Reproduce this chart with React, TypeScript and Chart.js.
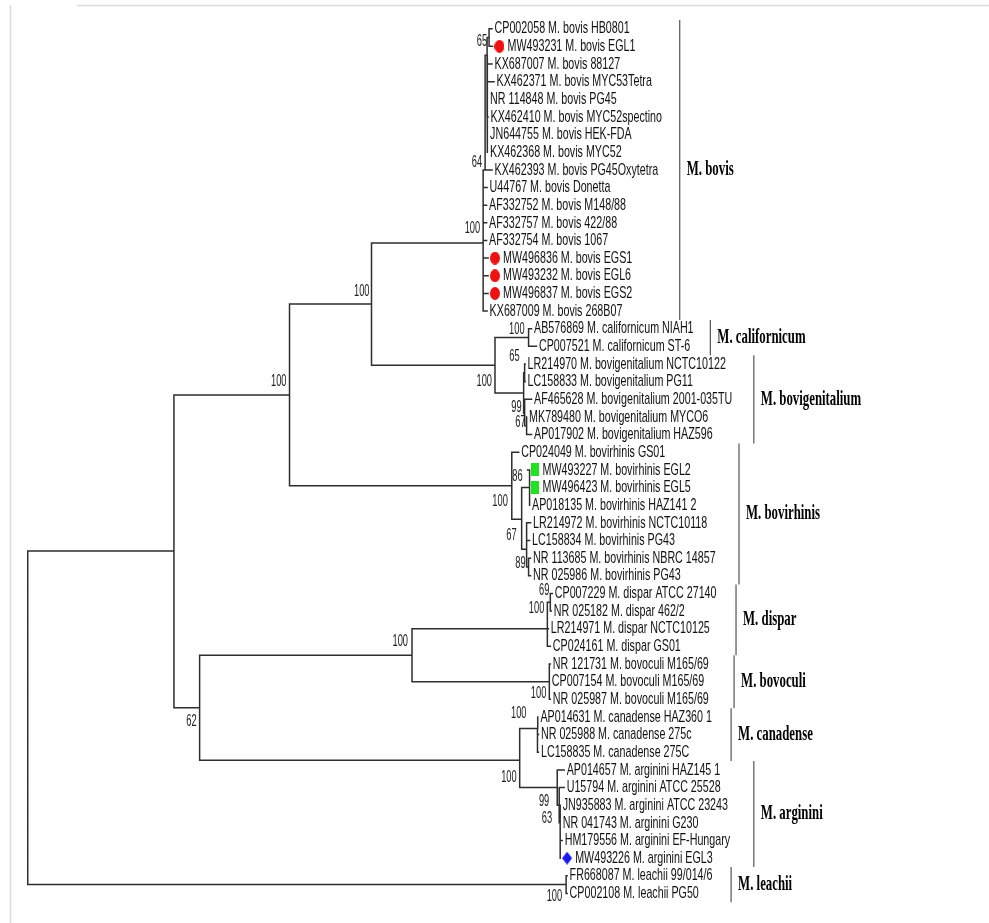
import React, { useEffect, useRef } from 'react';
import { Chart, registerables } from 'chart.js';
Chart.register(...registerables);

// ---------------- DATA ----------------
const LEAF_NAMES = [
  'CP002058 M. bovis HB0801',
  'MW493231 M. bovis EGL1',
  'KX687007 M. bovis 88127',
  'KX462371 M. bovis MYC53Tetra',
  'NR 114848 M. bovis PG45',
  'KX462410 M. bovis MYC52spectino',
  'JN644755 M. bovis HEK-FDA',
  'KX462368 M. bovis MYC52',
  'KX462393 M. bovis PG45Oxytetra',
  'U44767 M. bovis Donetta',
  'AF332752 M. bovis M148/88',
  'AF332757 M. bovis 422/88',
  'AF332754 M. bovis 1067',
  'MW496836 M. bovis EGS1',
  'MW493232 M. bovis EGL6',
  'MW496837 M. bovis EGS2',
  'KX687009 M. bovis 268B07',
  'AB576869 M. californicum NIAH1',
  'CP007521 M. californicum ST-6',
  'LR214970 M. bovigenitalium NCTC10122',
  'LC158833 M. bovigenitalium PG11',
  'AF465628 M. bovigenitalium 2001-035TU',
  'MK789480 M. bovigenitalium MYCO6',
  'AP017902 M. bovigenitalium HAZ596',
  'CP024049 M. bovirhinis GS01',
  'MW493227 M. bovirhinis EGL2',
  'MW496423 M. bovirhinis EGL5',
  'AP018135 M. bovirhinis HAZ141 2',
  'LR214972 M. bovirhinis NCTC10118',
  'LC158834 M. bovirhinis PG43',
  'NR 113685 M. bovirhinis NBRC 14857',
  'NR 025986 M. bovirhinis PG43',
  'CP007229 M. dispar ATCC 27140',
  'NR 025182 M. dispar 462/2',
  'LR214971 M. dispar NCTC10125',
  'CP024161 M. dispar GS01',
  'NR 121731 M. bovoculi M165/69',
  'CP007154 M. bovoculi M165/69',
  'NR 025987 M. bovoculi M165/69',
  'AP014631 M. canadense HAZ360 1',
  'NR 025988 M. canadense 275c',
  'LC158835 M. canadense 275C',
  'AP014657 M. arginini HAZ145 1',
  'U15794 M. arginini ATCC 25528',
  'JN935883 M. arginini ATCC 23243',
  'NR 041743 M. arginini G230',
  'HM179556 M. arginini EF-Hungary',
  'MW493226 M. arginini EGL3',
  'FR668087 M. leachii 99/014/6',
  'CP002108 M. leachii PG50',
];

const LEAF_PARENT = [
  'B65', 'B65', 'BG', 'BG', 'BG', 'BG', 'BG', 'BG', 'B64',
  'BV', 'BV', 'BV', 'BV', 'BV', 'BV', 'BV', 'BV',
  'Cal', 'Cal',
  'Bg1', 'Bg1', 'Bg2', 'Bg3', 'Bg3',
  'R', 'R86', 'R86', 'R86', 'R67', 'R67', 'R89', 'R89',
  'D69', 'D69', 'Dp', 'Dp',
  'Bo', 'Bo', 'Bo',
  'Can', 'Can', 'Can',
  'Arg', 'Arg99', 'Arg63', 'Arg63', 'Arg63', 'Arg63',
  'Le', 'Le',
];

// tip depth of each leaf (distance from left edge, tree units)
const LEAF_DEPTH = [
  492, 492.5, 492, 494, 487.5, 488, 487.5, 487.5, 492,
  487, 486.5, 486.5, 486.5, 488, 488, 488, 487,
  532, 537,
  525.5, 525.5, 532, 527, 532,
  519, 528, 528, 530, 531, 530, 531, 531,
  553, 552, 549, 551,
  551, 550, 551,
  538.5, 539, 539,
  565, 565, 561, 561, 563, 561,
  568, 568,
];

const NODE_IDS = ['root', 'N1', 'Le', 'N2', 'N3', 'N4', 'R', 'BV', 'N5', 'B64', 'BG', 'B65', 'Cal', 'Bg', 'Bg1', 'Bg2', 'Bg3', 'R2', 'R86', 'R67', 'R89', 'D', 'Dp', 'D69', 'Bo', 'CA', 'Can', 'Arg', 'Arg99', 'Arg63'];
const NODE_PARENT = [null, 'root', 'root', 'N1', 'N1', 'N2', 'N2', 'N4', 'N4', 'BV', 'B64', 'BG', 'N5', 'N5', 'Bg', 'Bg', 'Bg2', 'R', 'R2', 'R2', 'R67', 'N3', 'D', 'Dp', 'D', 'N3', 'CA', 'CA', 'Arg', 'Arg99'];
const NODE_DEPTH = [22, 170, 567, 287, 196, 370, 512, 483, 495, 485, 487, 489, 529, 524, 525, 525, 527, 522, 530, 527, 529, 411, 548, 551, 550, 520, 538, 558, 560, 561];
const NODE_ROW = [39.05, 29.6, 48.5, 20.75, 38.48, 15.6, 25.9, 12.14, 19.07, 8.0, 1.5, 0.5, 17.5, 20.64, 19.5, 21.8, 22.5, 27.8, 26, 29.5, 30.5, 35.5, 34, 32.5, 37, 41.46, 39.65, 43, 44, 45];

const BOOT_NODE = ['B65', 'B64', 'BV', 'N4', 'N2', 'Cal', 'N5', 'Bg1', 'Bg2', 'Bg3', 'R', 'R86', 'R2', 'R89', 'D69', 'Dp', 'D', 'Bo', 'N3', 'Can', 'CA', 'Arg99', 'Arg63', 'Le'];
const BOOT_VALUE = [65, 64, 100, 100, 100, 100, 100, 65, 99, 67, 100, 86, 67, 89, 69, 100, 100, 100, 62, 100, 100, 99, 63, 100];

const CLADE_NAMES = ['M. bovis', 'M. californicum', 'M. bovigenitalium', 'M. bovirhinis', 'M. dispar', 'M. bovoculi', 'M. canadense', 'M. arginini', 'M. leachii'];
const CLADE_FIRST = [0, 17, 19, 24, 32, 36, 39, 42, 48];
const CLADE_LAST = [16, 18, 23, 31, 35, 38, 41, 47, 49];

const RED_LEAVES = [1, 13, 14, 15];
const GREEN_LEAVES = [25, 26];
const BLUE_LEAVES = [47];

// ---------------- LAYOUT / STYLE ----------------
const W = 989;
const H = 923;
const ROW0_PX = 23;
const ROW_PX = 17.88;
const CLADE_BAR_X = [682, 713, 757, 742, 739, 737, 734, 757, 734];
const BOOT_OFFSET = [[-2, 4], [-3, -7], [-3, -14], [-2, -12], [-3, -13], [-4, -8], [-3, 16], [-5, -16], [-3, -6], [-1, -3], [-4, 16], [-7, -11], [-5, 16], [-3, -3], [-1, -12], [-3, -20], [-4, -14], [-3, 12], [-3, 14], [-11, -15], [-3, 17], [-10, -4], [-8, -4], [-4, 12]];
const MARKER_GAP = 7;
const TREE_COLOR = '#2e2e2e';
const BAR_COLOR = '#555555';
const LEAF_FONT = '17px "Liberation Sans", Arial, sans-serif';
const LEAF_SCALE = 0.63;
const BOOT_FONT = '16px "Liberation Sans", Arial, sans-serif';
const BOOT_SCALE = 0.58;
const CLADE_FONT = 'bold 21px "Liberation Serif", "Times New Roman", serif';
const CLADE_SCALE = 0.61;

function makeMarker(shape: string, w: number, h: number, color: string) {
  const c = document.createElement('canvas');
  c.width = w;
  c.height = h;
  const g = c.getContext('2d')!;
  g.fillStyle = color;
  g.beginPath();
  if (shape === 'ellipse') {
    g.ellipse(w / 2, h / 2, w / 2, h / 2, 0, 0, Math.PI * 2);
  } else if (shape === 'rect') {
    g.rect(0, 0, w, h);
  } else {
    g.moveTo(w / 2, 0);
    g.lineTo(w, h / 2);
    g.lineTo(w / 2, h);
    g.lineTo(0, h / 2);
    g.closePath();
  }
  g.fill();
  return c;
}

function drawText(ctx: CanvasRenderingContext2D, text: string, x: number, y: number, font: string, sx: number, align: CanvasTextAlign, color: string) {
  ctx.save();
  ctx.font = font;
  ctx.fillStyle = color;
  ctx.textBaseline = 'middle';
  ctx.textAlign = align;
  ctx.translate(x, y);
  ctx.scale(sx, 1);
  ctx.fillText(text, 0, 0);
  ctx.restore();
}

export default function App() {
  const ref = useRef<HTMLCanvasElement | null>(null);

  useEffect(() => {
    const canvas = ref.current;
    if (!canvas) return;
    document.body.style.margin = '0';

    const nodeIndex: Record<string, number> = {};
    NODE_IDS.forEach((id, i) => (nodeIndex[id] = i));
    const nodeX = (id: string) => NODE_DEPTH[nodeIndex[id]];
    const nodeY = (id: string) => NODE_ROW[nodeIndex[id]];
    const GAP = { x: null as any, y: null as any };

    // tree branches (elbow drawing)
    const branchPts: any[] = [];
    NODE_IDS.forEach((id, i) => {
      const p = NODE_PARENT[i];
      if (!p) return;
      branchPts.push({ x: nodeX(p), y: nodeY(p) }, { x: nodeX(p), y: NODE_ROW[i] }, { x: NODE_DEPTH[i], y: NODE_ROW[i] }, GAP);
    });
    LEAF_NAMES.forEach((_, i) => {
      const p = LEAF_PARENT[i];
      branchPts.push({ x: nodeX(p), y: nodeY(p) }, { x: nodeX(p), y: i }, { x: LEAF_DEPTH[i], y: i }, GAP);
    });

    // clade bars
    const barPts: any[] = [];
    CLADE_NAMES.forEach((_, k) => {
      barPts.push({ x: CLADE_BAR_X[k], y: CLADE_FIRST[k] - 0.5 }, { x: CLADE_BAR_X[k], y: CLADE_LAST[k] + 0.5 }, GAP);
    });

    const markerPts = (list: number[]) => list.map((i) => ({ x: LEAF_DEPTH[i] + MARKER_GAP, y: i }));
    const marked = new Set([...RED_LEAVES, ...GREEN_LEAVES, ...BLUE_LEAVES]);

    const yMin = -ROW0_PX / ROW_PX;
    const yMax = yMin + H / ROW_PX;

    const labelPlugin = {
      id: 'treeLabels',
      beforeDraw(chart: any) {
        const ctx = chart.ctx as CanvasRenderingContext2D;
        ctx.save();
        ctx.fillStyle = '#ffffff';
        ctx.fillRect(0, 0, W, H);
        ctx.strokeStyle = '#dcdcdc';
        ctx.lineWidth = 1.5;
        ctx.beginPath();
        ctx.moveTo(10.5, 5);
        ctx.lineTo(10.5, H);
        ctx.moveTo(77, 5.5);
        ctx.lineTo(W, 5.5);
        ctx.stroke();
        ctx.restore();
      },
      afterDatasetsDraw(chart: any) {
        const ctx = chart.ctx as CanvasRenderingContext2D;
        const xs = chart.scales.x;
        const ys = chart.scales.y;
        LEAF_NAMES.forEach((name, i) => {
          const px = xs.getPixelForValue(LEAF_DEPTH[i]) + (marked.has(i) ? 15 : 2.5);
          drawText(ctx, name, px, ys.getPixelForValue(i), LEAF_FONT, LEAF_SCALE, 'left', '#111111');
        });
        BOOT_NODE.forEach((id, k) => {
          const px = xs.getPixelForValue(nodeX(id)) + BOOT_OFFSET[k][0];
          const py = ys.getPixelForValue(nodeY(id)) + BOOT_OFFSET[k][1];
          drawText(ctx, String(BOOT_VALUE[k]), px, py, BOOT_FONT, BOOT_SCALE, 'right', '#222222');
        });
        CLADE_NAMES.forEach((name, k) => {
          const px = xs.getPixelForValue(CLADE_BAR_X[k]) + 7;
          const py = ys.getPixelForValue((CLADE_FIRST[k] + CLADE_LAST[k]) / 2);
          drawText(ctx, name, px, py, CLADE_FONT, CLADE_SCALE, 'left', '#000000');
        });
      },
    };

    const chart = new Chart(canvas, {
      type: 'scatter',
      data: {
        datasets: [
          {
            data: branchPts,
            showLine: true,
            spanGaps: false,
            borderColor: TREE_COLOR,
            borderWidth: 1.5,
            pointRadius: 0,
            borderJoinStyle: 'miter',
            borderCapStyle: 'square',
            tension: 0,
          } as any,
          {
            data: barPts,
            showLine: true,
            spanGaps: false,
            borderColor: BAR_COLOR,
            borderWidth: 1.2,
            pointRadius: 0,
          } as any,
          {
            data: markerPts(RED_LEAVES),
            pointStyle: makeMarker('ellipse', 10, 13, '#ee1111'),
            pointRadius: 5,
            showLine: false,
          } as any,
          {
            data: markerPts(GREEN_LEAVES),
            pointStyle: makeMarker('rect', 8, 13, '#22e022'),
            pointRadius: 5,
            showLine: false,
          } as any,
          {
            data: markerPts(BLUE_LEAVES),
            pointStyle: makeMarker('diamond', 10, 13, '#1a1aee'),
            pointRadius: 5,
            showLine: false,
          } as any,
        ],
      },
      options: {
        responsive: false,
        animation: false,
        devicePixelRatio: 1,
        layout: { padding: 0 },
        events: [],
        plugins: {
          legend: { display: false },
          tooltip: { enabled: false },
          title: { display: false },
        },
        scales: {
          x: { type: 'linear', min: 0, max: W, display: false },
          y: { type: 'linear', min: yMin, max: yMax, reverse: true, display: false },
        },
      } as any,
      plugins: [labelPlugin],
    });

    return () => chart.destroy();
  }, []);

  return <canvas ref={ref} width={W} height={H} style={{ position: 'fixed', left: 0, top: 0, display: 'block' }} />;
}
